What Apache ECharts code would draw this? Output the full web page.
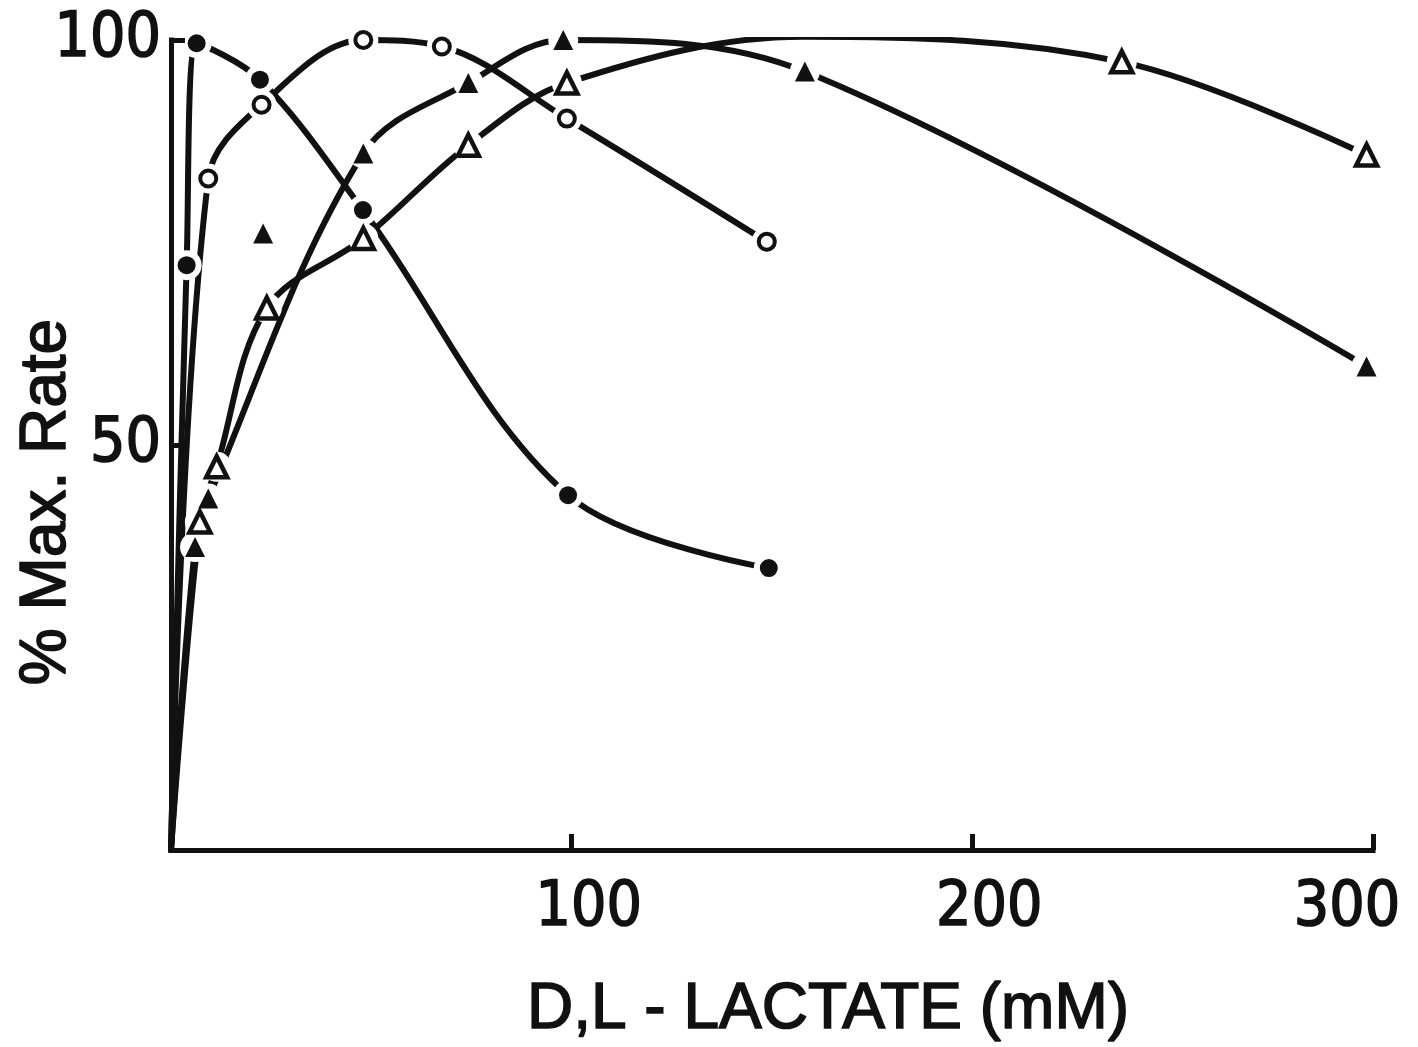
<!DOCTYPE html>
<html>
<head>
<meta charset="utf-8">
<script src="https://cdn.jsdelivr.net/npm/echarts@6/dist/echarts.min.js"></script>
<style>
  html, body { margin: 0; padding: 0; background: #fff; }
  #chart { width: 1418px; height: 1047px; }
</style>
</head>
<body>
<div id="chart"></div>
<script>
// D,L-lactate concentration (mM) vs. % of maximal rate
const origin = [0, 0];
const filledCircles = [[3.9, 72.2], [6.4, 99.6], [22.2, 95.1], [47.9, 79.0], [99.1, 43.8], [149.2, 34.8]];
const openCircles = [[9.3, 82.9], [22.6, 92.0], [48.0, 100], [67.6, 99.2], [98.8, 90.3], [148.7, 75.1]];
const filledTriangles = [[6.0, 37.4], [9.3, 43.4], [48.0, 86.0], [74.2, 94.7], [97.9, 100], [158.2, 96.1], [298.4, 59.7]];
const filledTriangleStray = [[23.0, 76.1]];
const openTriangles = [[7.2, 40.5], [11.4, 47.3], [23.9, 66.9], [48.0, 75.5], [74.2, 87.0], [98.8, 94.7], [157.8, 100.4], [237.3, 97.3], [298.4, 85.8]];
const xTickLabels = [100, 200, 300];
const yTickLabels = [50, 100];

const INK = '#111';
const labelFont = '"DejaVu Sans Condensed", "Liberation Sans", sans-serif';
const titleFont = '"Liberation Sans", Arial, sans-serif';

const markerStyles = {
  filledCircle: { symbol: 'circle', symbolSize: 18, itemStyle: { color: INK, opacity: 1 } },
  openCircle: { symbol: 'circle', symbolSize: 16, itemStyle: { color: '#fff', borderColor: INK, borderWidth: 4, opacity: 1 } },
  filledTriangle: { symbol: 'triangle', symbolSize: 20, itemStyle: { color: INK, opacity: 1 } },
  openTriangle: { symbol: 'triangle', symbolSize: 21, itemStyle: { color: '#fff', borderColor: INK, borderWidth: 4.5, opacity: 1 } }
};

function curve(name, points) {
  return {
    name: name, type: 'line', data: [origin].concat(points),
    smooth: 0.35, showSymbol: false, symbol: 'none', z: 2,
    lineStyle: { color: INK, width: 6, cap: 'round', join: 'round', opacity: 1 },
    silent: true, animation: false
  };
}
// white disc behind each marker so the pen line stops short of the symbol
function halo(name, points, size) {
  return {
    name: name + '-halo', type: 'scatter', data: points, symbol: 'circle',
    symbolSize: size, itemStyle: { color: '#fff', opacity: 1 }, z: 3, silent: true, animation: false
  };
}
function marks(name, points, style) {
  return Object.assign({
    name: name, type: 'scatter', data: points, z: 4, silent: true, animation: false
  }, style);
}

const series = [
  curve('filledCircles', filledCircles),
  curve('openCircles', openCircles),
  curve('filledTriangles', filledTriangles),
  curve('openTriangles', openTriangles),
  halo('filledCircles', filledCircles, 30),
  halo('openCircles', openCircles, 30),
  halo('filledTriangles', filledTriangles, 30),
  halo('filledTriangleStray', filledTriangleStray, 30),
  halo('openTriangles', openTriangles, 30),
  marks('filledCircles', filledCircles, markerStyles.filledCircle),
  marks('openCircles', openCircles, markerStyles.openCircle),
  marks('filledTriangles', filledTriangles, markerStyles.filledTriangle),
  marks('filledTriangleStray', filledTriangleStray, markerStyles.filledTriangle),
  marks('openTriangles', openTriangles, markerStyles.openTriangle)
];

const tickText = { fontFamily: labelFont, fontSize: 62, color: INK, textBorderColor: INK, textBorderWidth: 1.6 };

const chart = echarts.init(document.getElementById('chart'), null, { renderer: 'canvas' });
chart.setOption({
  backgroundColor: '#fff',
  animation: false,
  grid: { left: 171, right: 45, top: 40, bottom: 197 },
  xAxis: {
    type: 'value', min: 0, max: 300, interval: 100, z: 10,
    splitLine: { show: false },
    axisLine: { lineStyle: { color: INK, width: 5, cap: 'square' } },
    axisTick: { inside: true, length: 16, lineStyle: { color: INK, width: 5 } },
    axisLabel: {
      margin: 28,
      formatter: function (v) {
        if (xTickLabels.indexOf(v) < 0) return '';
        return v === xTickLabels[xTickLabels.length - 1] ? '{end|' + v + '}' : '{mid|' + v + '}';
      },
      rich: {
        mid: Object.assign({ padding: [0, 0, 0, 34] }, tickText),
        end: Object.assign({ padding: [0, 52, 0, 0] }, tickText)
      }
    }
  },
  yAxis: {
    type: 'value', min: 0, max: 100, interval: 50, z: 10,
    splitLine: { show: false },
    axisLine: { lineStyle: { color: INK, width: 5, cap: 'square' } },
    axisTick: { inside: true, length: 14, lineStyle: { color: INK, width: 5 } },
    axisLabel: Object.assign({
      margin: 10,
      formatter: function (v) { return yTickLabels.indexOf(v) >= 0 ? String(v) : ''; }
    }, tickText)
  },
  graphic: [
    {
      type: 'text', x: 47, y: 502, rotation: Math.PI / 2, z: 20,
      style: { text: '% Max. Rate', font: '64px ' + titleFont, fill: INK, stroke: INK, lineWidth: 1.6, textAlign: 'center', textVerticalAlign: 'middle' }
    },
    {
      type: 'text', x: 828, y: 1010, z: 20,
      style: { text: 'D,L - LACTATE (mM)', font: '64px ' + titleFont, fill: INK, stroke: INK, lineWidth: 1.6, textAlign: 'center', textVerticalAlign: 'middle' }
    }
  ],
  series: series
});
</script>
</body>
</html>
